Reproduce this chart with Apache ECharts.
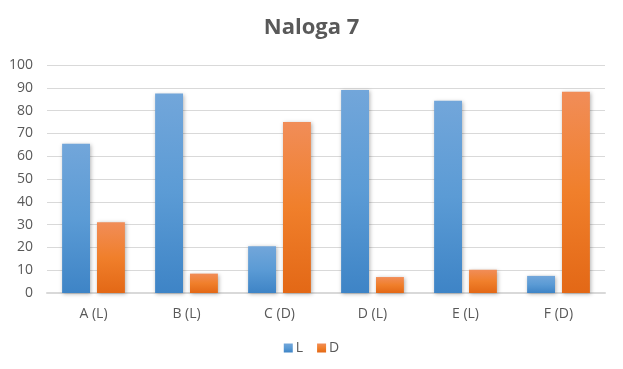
<!DOCTYPE html>
<html><head><meta charset="utf-8">
<script src="https://cdn.jsdelivr.net/npm/echarts@6/dist/echarts.min.js"></script>
<style>html,body{margin:0;padding:0;background:#fff}#c{width:623px;height:369px}</style>
</head><body><div id="c"></div>
<script>
var categories = ['A (L)', 'B (L)', 'C (D)', 'D (L)', 'E (L)', 'F (D)'];
var seriesL = [65.5, 87.5, 20.5, 89, 84.3, 7.5];
var seriesD = [31, 8.5, 75, 7, 10.2, 88.3];
var yTicks = { min: 0, max: 100, interval: 10 };

function grad(top, bottom) {
  return new echarts.graphic.LinearGradient(0, 0, 0, 1, [
    { offset: 0, color: top }, { offset: 0.5, color: bottom.mid }, { offset: 1, color: bottom.end }
  ]);
}
var chart = echarts.init(document.getElementById('c'), null, { renderer: 'canvas' });
var font = 'Open Sans';
chart.setOption({
  animation: false,
  color: ['#5b9bd5', '#ed7d31'],
  title: {
    text: 'Naloga 7', left: 'center', top: 12,
    textStyle: { fontFamily: font, fontSize: 22, fontWeight: 'bold', color: '#595959' }
  },
  legend: {
    data: ['L', 'D'], bottom: 9, left: 'center',
    icon: 'rect', itemWidth: 9, itemHeight: 9, itemGap: 14,
    textStyle: { fontFamily: font, fontSize: 14, color: '#595959', padding: [0, 0, 0, -2] }
  },
  grid: { left: 47, right: 18, top: 65, bottom: 76, containLabel: false },
  xAxis: {
    type: 'category', data: categories,
    axisLine: { lineStyle: { color: '#d9d9d9', width: 2 } },
    axisTick: { show: false },
    axisLabel: { fontFamily: font, fontSize: 14, color: '#595959', margin: 14 }
  },
  yAxis: {
    type: 'value', min: yTicks.min, max: yTicks.max, interval: yTicks.interval,
    axisLine: { show: false }, axisTick: { show: false },
    splitLine: { lineStyle: { color: '#d9d9d9', width: 1 } },
    axisLabel: { fontFamily: font, fontSize: 14, color: '#595959', margin: 14 }
  },
  series: [
    {
      name: 'L', type: 'bar', data: seriesL, barWidth: '30%', barGap: '25%',
      itemStyle: {
        color: grad('#72a6da', { mid: '#5b9bd5', end: '#3e84c6' }),
        shadowBlur: 4, shadowColor: 'rgba(0,0,0,0.3)', shadowOffsetX: 1, shadowOffsetY: 1
      }
    },
    {
      name: 'D', type: 'bar', data: seriesD, barWidth: '30%', barGap: '25%',
      itemStyle: {
        color: grad('#f18d58', { mid: '#f07f2b', end: '#e36816' }),
        shadowBlur: 4, shadowColor: 'rgba(0,0,0,0.3)', shadowOffsetX: 1, shadowOffsetY: 1
      }
    }
  ]
});
</script></body></html>
